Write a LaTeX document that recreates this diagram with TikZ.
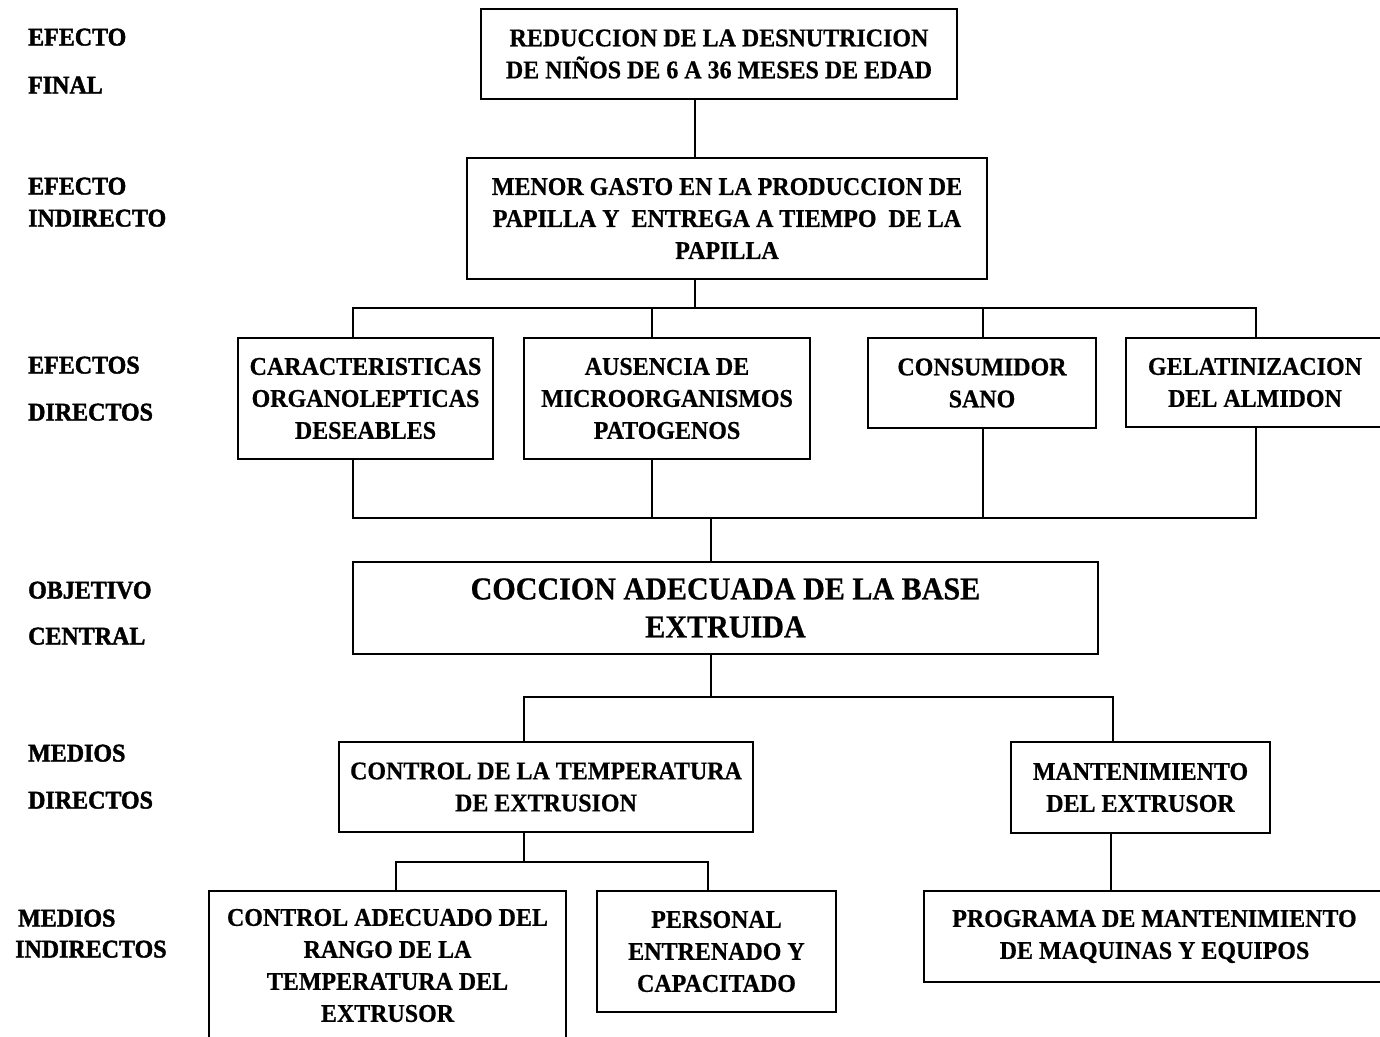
\documentclass[tikz,border=0pt]{standalone}
\usepackage{fontspec}
\setmainfont{Liberation Serif}[BoldFeatures={FakeStretch=0.94, FakeBold=0.6}]
\newfontfamily\lblfont{Liberation Serif}[BoldFeatures={FakeStretch=0.94, FakeBold=1.6}]
\begin{document}
\begin{tikzpicture}[x=1pt,y=-1pt,
  box/.style={draw, line width=2pt, inner sep=0pt, align=center,
    font=\bfseries\fontsize{25.5}{32}\selectfont},
  bigbox/.style={box, font=\bfseries\fontsize{32}{38}\selectfont},
  sz/.style 2 args={minimum width=#1pt, minimum height=#2pt},
  lvl/.style={anchor=west, inner sep=0pt, text height=17pt, text depth=0pt,
    font=\lblfont\bfseries\fontsize{25.5}{32}\selectfont},
  link/.style={line width=1.8pt}]
\clip (0,0) rectangle (1380,1036);
\fill[white] (0,0) rectangle (1380,1036);

% level labels
\node[lvl] (l1a) at (28,37)  {EFECTO};
\node[lvl] (l1b) at (28,85)  {FINAL};
\node[lvl] (l2a) at (28,186) {EFECTO};
\node[lvl] (l2b) at (28,218) {INDIRECTO};
\node[lvl] (l3a) at (28,365) {EFECTOS};
\node[lvl] (l3b) at (28,412) {DIRECTOS};
\node[lvl] (l4a) at (28,590) {OBJETIVO};
\node[lvl] (l4b) at (28,636) {CENTRAL};
\node[lvl] (l5a) at (28,753) {MEDIOS};
\node[lvl] (l5b) at (28,800) {DIRECTOS};
\node[lvl] (l6a) at (18,918) {MEDIOS};
\node[lvl] (l6b) at (15,949) {INDIRECTOS};

% boxes
\node[box, sz={476}{90}]  (fin) at (719,54)     {REDUCCION DE LA DESNUTRICION\\DE NIÑOS DE 6 A 36 MESES DE EDAD};
\node[box, sz={520}{121}] (ind) at (727,218.5)  {MENOR GASTO EN LA PRODUCCION DE\\PAPILLA Y \ ENTREGA A TIEMPO \ DE LA\\PAPILLA};
\node[box, sz={255}{121}] (dA)  at (365.5,398.5) {CARACTERISTICAS\\ORGANOLEPTICAS\\DESEABLES};
\node[box, sz={286}{121}] (dB)  at (667,398.5)  {AUSENCIA DE\\MICROORGANISMOS\\PATOGENOS};
\node[box, sz={228}{90}]  (dC)  at (982,383)    {CONSUMIDOR\\SANO};
\node[box, sz={258}{89}]  (dD)  at (1255,382.5) {GELATINIZACION\\DEL ALMIDON};
\node[bigbox, sz={745}{92}] (obj) at (725.5,608) {COCCION ADECUADA DE LA BASE\\EXTRUIDA};
\node[box, sz={414}{90}]  (mE)  at (546,787)    {CONTROL DE LA TEMPERATURA\\DE EXTRUSION};
\node[box, sz={259}{91}]  (mF)  at (1140.5,787.5) {MANTENIMIENTO\\DEL EXTRUSOR};
\node[box, sz={357}{149}] (iG)  at (387.5,965.5) {CONTROL ADECUADO DEL\\RANGO DE LA\\TEMPERATURA DEL\\EXTRUSOR};
\node[box, sz={239}{121}] (iH)  at (716.5,951.5) {PERSONAL\\ENTRENADO Y\\CAPACITADO};
\node[box, sz={461}{91}]  (iI)  at (1154.5,936.5) {PROGRAMA DE MANTENIMIENTO\\DE MAQUINAS Y EQUIPOS};

% connector positions
\coordinate (t1) at (695,0);
\coordinate (t2) at (711,0);
\coordinate (b1) at (0,308);
\coordinate (b2) at (0,518);
\coordinate (b3) at (0,697);
\coordinate (b4) at (0,862);
\coordinate (xA) at (353,0);
\coordinate (xB) at (652,0);
\coordinate (xC) at (983,0);
\coordinate (xD) at (1256,0);
\coordinate (xE) at (524,0);
\coordinate (xF) at (1113,0);
\coordinate (xG) at (396,0);
\coordinate (xH) at (708,0);
\coordinate (xI) at (1111,0);

% connectors
\draw[link] (fin.south -| t1) -- (ind.north -| t1);
\draw[link] (ind.south -| t1) -- (t1 |- b1);
\draw[link] (dA.north -| xA) -- (xA |- b1) -- (xD |- b1) -- (dD.north -| xD);
\draw[link] (dB.north -| xB) -- (xB |- b1);
\draw[link] (dC.north -| xC) -- (xC |- b1);
\draw[link] (dA.south -| xA) -- (xA |- b2) -- (xD |- b2) -- (dD.south -| xD);
\draw[link] (dB.south -| xB) -- (xB |- b2);
\draw[link] (dC.south -| xC) -- (xC |- b2);
\draw[link] (t2 |- b2) -- (obj.north -| t2);
\draw[link] (obj.south -| t2) -- (t2 |- b3);
\draw[link] (mE.north -| xE) -- (xE |- b3) -- (xF |- b3) -- (mF.north -| xF);
\draw[link] (mE.south -| xE) -- (xE |- b4);
\draw[link] (iG.north -| xG) -- (xG |- b4) -- (xH |- b4) -- (iH.north -| xH);
\draw[link] (mF.south -| xI) -- (iI.north -| xI);
\end{tikzpicture}
\end{document}
